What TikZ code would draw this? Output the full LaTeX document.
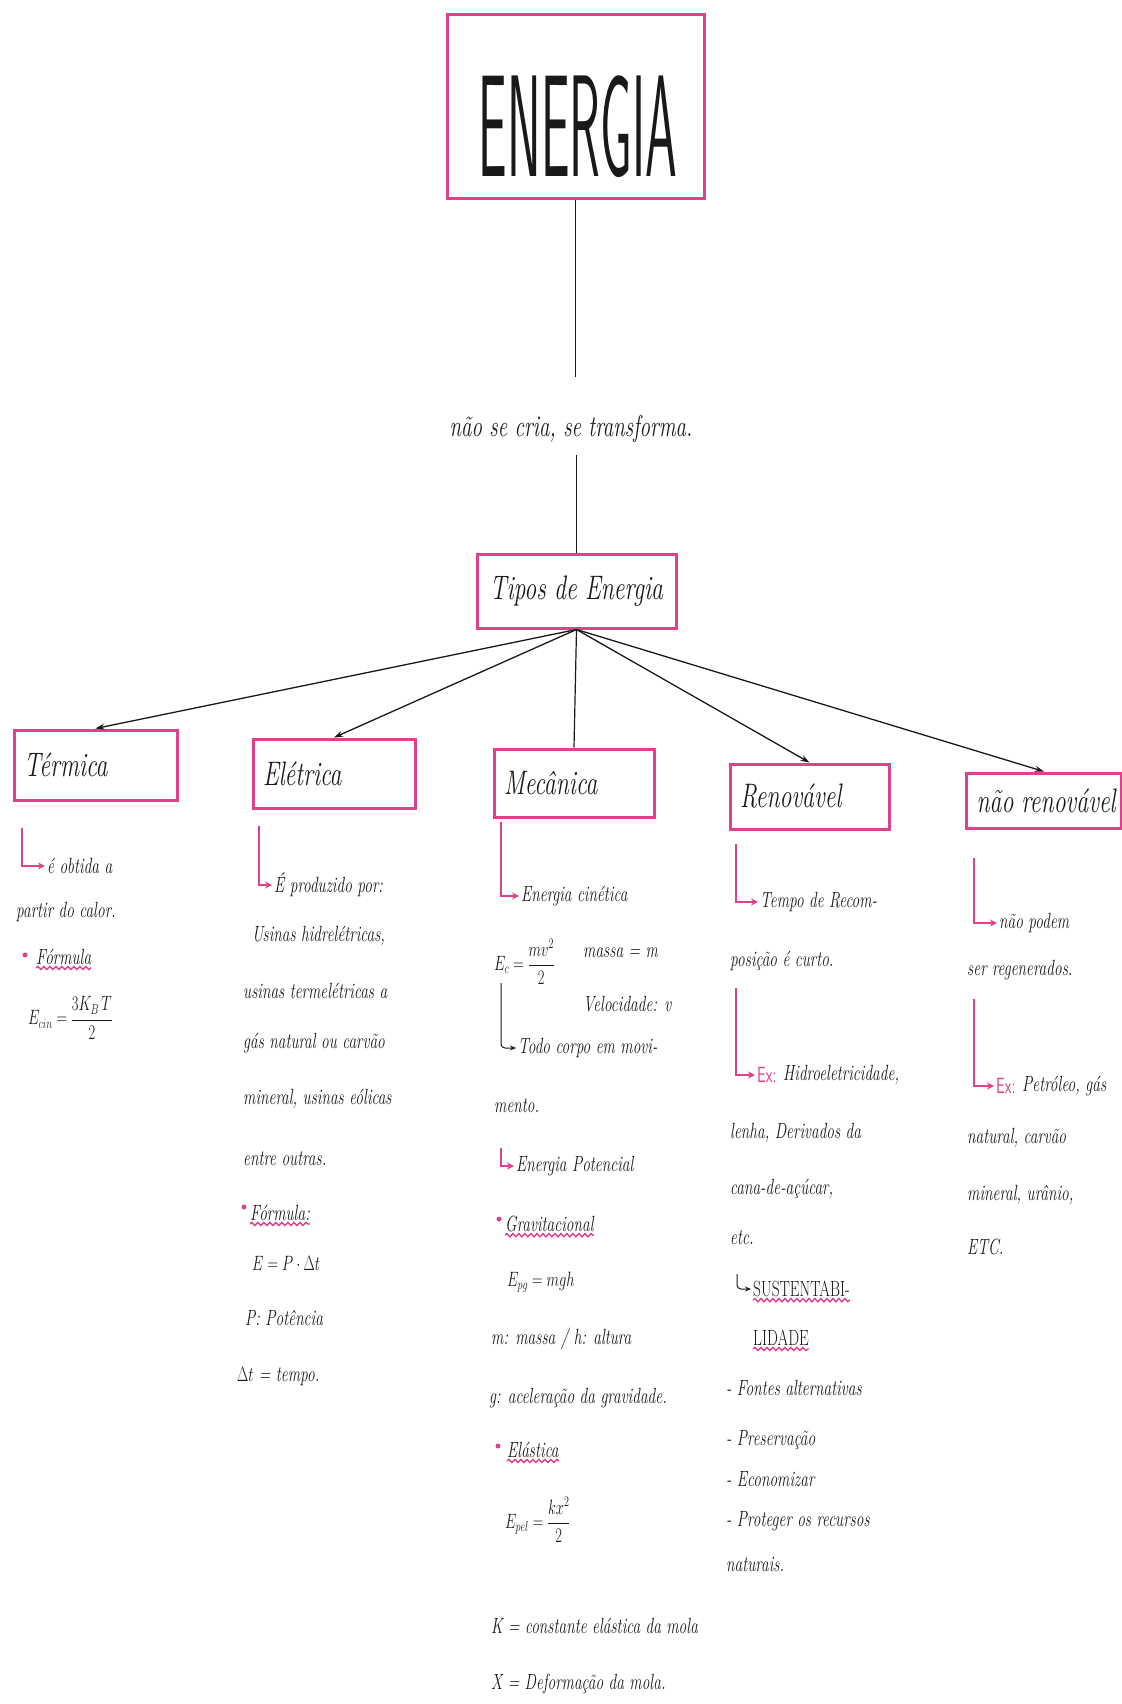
\documentclass[tikz,border=0pt]{standalone}
\usepackage{graphicx}
\usetikzlibrary{arrows.meta,decorations.pathmorphing}

\definecolor{boxpink}{RGB}{226,64,140}
\definecolor{ink}{RGB}{25,25,25}
\newcommand{\hw}[1]{\scalebox{0.7}[1]{#1}}

\tikzset{
  topic/.style={draw=boxpink, line width=3pt, inner xsep=10pt, inner ysep=0pt, align=left,
    font=\fontsize{34}{36}\selectfont\itshape, text=ink},
  hand/.style={anchor=west, inner sep=0pt, text=ink, font=\fontsize{22}{24}\selectfont\itshape},
  exlabel/.style={anchor=west, inner sep=0pt, text=boxpink, font=\fontsize{22}{24}\selectfont\sffamily},
  stem/.style={draw=ink, line width=1.2pt},
  link/.style={draw=ink, line width=1.3pt, -{Stealth[length=9pt,width=6pt]}},
  hookp/.style={draw=boxpink, line width=1.8pt, -{Stealth[length=7pt,width=7pt]}, shorten >=2pt},
  hookb/.style={draw=ink, line width=1pt, rounded corners=4pt, -{Stealth[length=6pt,width=5pt]}, shorten >=2pt},
  wavy/.style={draw=boxpink, line width=1.4pt, decorate, decoration={snake, amplitude=1.6pt, segment length=6pt}}
}

\begin{document}
\begin{tikzpicture}[x=1pt, y=-1pt]
  \fill[white] (0,0) rectangle (1121,1704);
  \useasboundingbox (0,0) rectangle (1121,1704);

  % title and hub
  \node[draw=boxpink, line width=3pt, minimum width=257pt, minimum height=184pt, inner sep=0pt] (energia) at (575.5,107) {};
  \node[inner sep=0pt, text=ink] (energiatxt) at (578,127) {\scalebox{0.35}[1]{\fontsize{145}{145}\selectfont\sffamily ENERGIA}};
  \node[hand, anchor=center, font=\fontsize{30}{32}\selectfont\itshape] (slogan) at (571,429) {\hw{não se cria, se transforma.}};
  \node[topic, align=center, minimum width=199pt, minimum height=74pt] (tipos) at (576.5,591) {\hw{Tipos de Energia}};

  \draw[stem, shorten >=38pt] (energia.south) -- (energia.south |- slogan.north);
  \draw[stem, shorten <=12pt] (tipos.north |- slogan.south) -- (tipos.north);

  % the five kinds
  \node[topic, text width=143pt, minimum height=70pt] (termica) at (95.5,765) {\hw{Térmica}};
  \node[topic, text width=142pt, minimum height=69pt] (eletrica) at (334,773.5) {\hw{Elétrica}};
  \node[topic, text width=140pt, minimum height=68pt] (mecanica) at (574,783) {\hw{Mecânica}};
  \node[topic, text width=139pt, minimum height=65pt] (renovavel) at (809.5,796.5) {\hw{Renovável}};
  \node[topic, text width=135pt, minimum height=55pt] (naorenov) at (1044,800.5) {\hw{não renovável}};

  \draw[link] (tipos.south) -- (termica.north);
  \draw[link] (tipos.south) -- (eletrica.north);
  \draw[stem] (tipos.south) -- (mecanica.north);
  \draw[link] (tipos.south) -- (renovavel.north);
  \draw[link] (tipos.south) -- (naorenov.north);

  % termica
  \node[hand] (termobt) at (47,866) {\hw{é obtida a}};
  \node[hand] (termcal) at (16,912) {\hw{partir do calor.}};
  \node[hand] (termform) at (36,957) {\hw{Fórmula}};
  \node[hand] (termeq) at (28,1018) {\hw{$E_{cin} = \displaystyle\frac{3K_B\,T}{2}$}};
  \coordinate (termhook) at (22,828);
  \draw[hookp] (termhook) |- (termobt.west);
  \fill[boxpink] (25,955) circle (2.5pt);
  \draw[wavy] ([yshift=-3pt]termform.south west) -- ([yshift=-3pt]termform.south east);

  % eletrica
  \node[hand] (eletprod) at (274,885) {\hw{É produzido por:}};
  \node[hand] (eletus1) at (252,936) {\hw{Usinas hidrelétricas,}};
  \node[hand] (eletus2) at (243,991) {\hw{usinas termelétricas a}};
  \node[hand] (eletus3) at (243,1043) {\hw{gás natural ou carvão}};
  \node[hand] (eletus4) at (243,1099) {\hw{mineral, usinas eólicas}};
  \node[hand] (eletout) at (243,1159) {\hw{entre outras.}};
  \node[hand] (eletform) at (250,1213) {\hw{Fórmula:}};
  \node[hand] (eleteq) at (252,1263) {\hw{$E = P \cdot \Delta t$}};
  \node[hand] (eletpot) at (245,1318) {\hw{P: Potência}};
  \node[hand] (elettemp) at (237,1377) {\hw{$\Delta t$ = tempo.}};
  \coordinate (elethook) at (259,826);
  \draw[hookp] (elethook) |- (eletprod.west);
  \fill[boxpink] (244,1207) circle (2.5pt);
  \draw[wavy] ([yshift=-3pt]eletform.south west) -- ([yshift=-3pt]eletform.south east);

  % mecanica
  \node[hand] (mecin) at (521,896) {\hw{Energia cinética}};
  \node[hand] (meceq) at (494,962) {\hw{$E_c = \displaystyle\frac{mv^2}{2}$}};
  \node[hand] (mecmassa) at (583,953) {\hw{massa = m}};
  \node[hand] (mecvel) at (583,1004) {\hw{Velocidade: v}};
  \node[hand] (mecorpo) at (518,1048) {\hw{Todo corpo em movi-}};
  \node[hand] (mecmento) at (494,1106) {\hw{mento.}};
  \node[hand] (mecpot) at (516,1166) {\hw{Energia Potencial}};
  \node[hand] (mecgrav) at (505,1224) {\hw{Gravitacional}};
  \node[hand] (mecpg) at (507,1282) {\hw{$E_{pg} = mgh$}};
  \node[hand] (mecmh) at (491,1339) {\hw{m: massa / h: altura}};
  \node[hand] (mecg) at (489,1398) {\hw{g: aceleração da gravidade.}};
  \node[hand] (mecel) at (507,1450) {\hw{Elástica}};
  \node[hand] (mecpel) at (505,1520) {\hw{$E_{pel} = \displaystyle\frac{kx^2}{2}$}};
  \node[hand] (meck) at (491,1626) {\hw{K = constante elástica da mola}};
  \node[hand] (mecx) at (491,1684) {\hw{X = Deformação da mola.}};
  \coordinate (mechook1) at (501,822);
  \coordinate (mechook2) at (501,983);
  \coordinate (mechook3) at (501,1148);
  \draw[hookp] (mechook1) |- (mecin.west);
  \draw[hookb] (mechook2) |- (mecorpo.west);
  \draw[hookp] (mechook3) |- (mecpot.west);
  \fill[boxpink] (499,1219) circle (2.5pt);
  \fill[boxpink] (498,1446) circle (2.5pt);
  \draw[wavy] ([yshift=-3pt]mecgrav.south west) -- ([yshift=-3pt]mecgrav.south east);
  \draw[wavy] ([yshift=-3pt]mecel.south west) -- ([yshift=-3pt]mecel.south east);

  % renovavel
  \node[hand] (rentempo) at (760,902) {\hw{Tempo de Recom-}};
  \node[hand] (renpos) at (730,961) {\hw{posição é curto.}};
  \node[exlabel] (renex) at (757,1075) {\hw{Ex:}};
  \node[hand] (renhid) at (783,1075) {\hw{Hidroeletricidade,}};
  \node[hand] (renlen) at (730,1133) {\hw{lenha, Derivados da}};
  \node[hand] (rencana) at (730,1189) {\hw{cana-de-açúcar,}};
  \node[hand] (renetc) at (730,1238) {\hw{etc.}};
  \node[hand, font=\fontsize{22}{24}\selectfont] (rensust) at (753,1289) {\hw{SUSTENTABI-}};
  \node[hand, font=\fontsize{22}{24}\selectfont] (renlid) at (753,1338) {\hw{LIDADE}};
  \node[hand] (renfon) at (726,1388) {\hw{- Fontes alternativas}};
  \node[hand] (renpres) at (726,1440) {\hw{- Preservação}};
  \node[hand] (reneco) at (726,1479) {\hw{- Economizar}};
  \node[hand] (renprot) at (726,1521) {\hw{- Proteger os recursos}};
  \node[hand] (rennat) at (726,1564) {\hw{naturais.}};
  \coordinate (renhook1) at (736,844);
  \coordinate (renhook2) at (736,988);
  \coordinate (renhook3) at (737,1274);
  \draw[hookp] (renhook1) |- (rentempo.west);
  \draw[hookp] (renhook2) |- (renex.west);
  \draw[hookb] (renhook3) |- (rensust.west);
  \draw[wavy] ([yshift=-3pt]rensust.south west) -- ([yshift=-3pt]rensust.south east);
  \draw[wavy] ([yshift=-3pt]renlid.south west) -- ([yshift=-3pt]renlid.south east);

  % nao renovavel
  \node[hand] (naopod) at (999,923) {\hw{não podem}};
  \node[hand] (naoreg) at (967,970) {\hw{ser regenerados.}};
  \node[exlabel] (naoex) at (996,1086) {\hw{Ex:}};
  \node[hand] (naopet) at (1022,1086) {\hw{Petróleo, gás}};
  \node[hand] (naonat) at (967,1138) {\hw{natural, carvão}};
  \node[hand] (naomin) at (967,1195) {\hw{mineral, urânio,}};
  \node[hand] (naoetc) at (967,1247) {\hw{ETC.}};
  \coordinate (naohook1) at (974,858);
  \coordinate (naohook2) at (974,999);
  \draw[hookp] (naohook1) |- (naopod.west);
  \draw[hookp] (naohook2) |- (naoex.west);
\end{tikzpicture}
\end{document}
